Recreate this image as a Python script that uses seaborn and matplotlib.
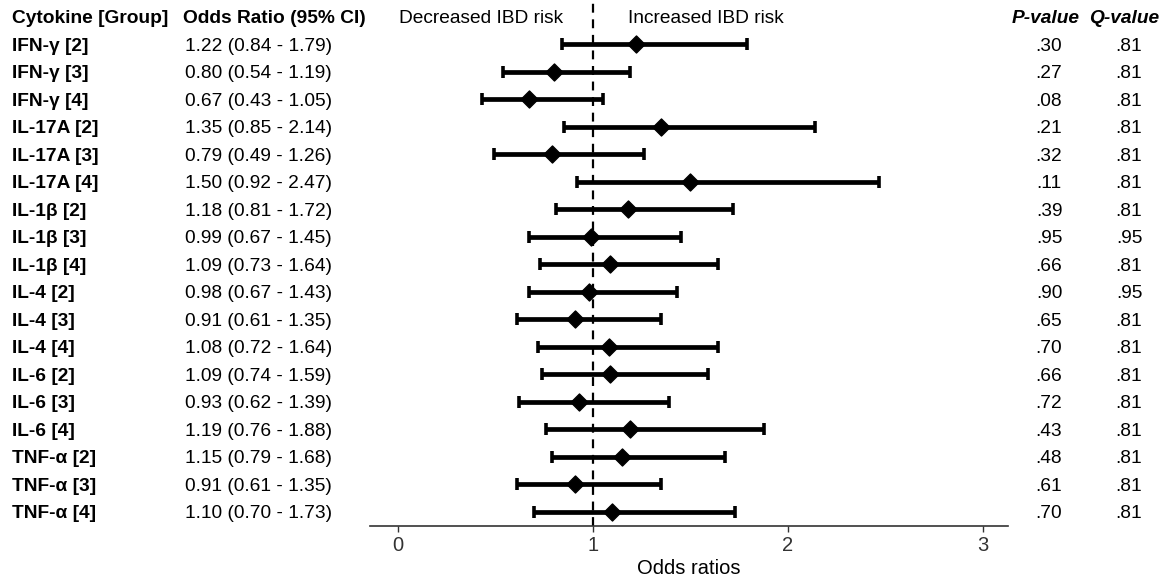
import matplotlib
matplotlib.use("Agg")
import matplotlib.pyplot as plt
import matplotlib.transforms as mtransforms
import numpy as np
import pandas as pd
import seaborn as sns

# data
labels = ["IFN-γ [2]", "IFN-γ [3]", "IFN-γ [4]",
          "IL-17A [2]", "IL-17A [3]", "IL-17A [4]",
          "IL-1β [2]", "IL-1β [3]", "IL-1β [4]",
          "IL-4 [2]", "IL-4 [3]", "IL-4 [4]",
          "IL-6 [2]", "IL-6 [3]", "IL-6 [4]",
          "TNF-α [2]", "TNF-α [3]", "TNF-α [4]"]
odds = [1.22, 0.80, 0.67, 1.35, 0.79, 1.50, 1.18, 0.99, 1.09,
        0.98, 0.91, 1.08, 1.09, 0.93, 1.19, 1.15, 0.91, 1.10]
ci_low = [0.84, 0.54, 0.43, 0.85, 0.49, 0.92, 0.81, 0.67, 0.73,
          0.67, 0.61, 0.72, 0.74, 0.62, 0.76, 0.79, 0.61, 0.70]
ci_high = [1.79, 1.19, 1.05, 2.14, 1.26, 2.47, 1.72, 1.45, 1.64,
           1.43, 1.35, 1.64, 1.59, 1.39, 1.88, 1.68, 1.35, 1.73]
p_values = [".30", ".27", ".08", ".21", ".32", ".11", ".39", ".95", ".66",
            ".90", ".65", ".70", ".66", ".72", ".43", ".48", ".61", ".70"]
q_values = [".81", ".81", ".81", ".81", ".81", ".81", ".81", ".95", ".81",
            ".95", ".81", ".81", ".81", ".81", ".81", ".81", ".81", ".81"]
x_ticks = [0, 1, 2, 3]

df = pd.DataFrame({"label": labels, "odds": odds, "lo": ci_low, "hi": ci_high,
                   "p": p_values, "q": q_values})
df["row"] = np.arange(len(df))

sns.set_theme(style="white")
plt.rcParams['font.family'] = ['Liberation Sans', 'DejaVu Sans']
plt.rcParams['text.color'] = 'black'
plt.rcParams['axes.labelcolor'] = 'black'

W, H = 1170, 582
fig = plt.figure(figsize=(11.7, 5.82), dpi=100)
ax = fig.add_axes([370 / W, 1 - 526 / H, (1008 - 370) / W, 526 / H])

# confidence intervals
ax.errorbar(df["odds"], df["row"],
            xerr=[df["odds"] - df["lo"], df["hi"] - df["odds"]],
            fmt="none", ecolor="black", elinewidth=3.4, capsize=4, capthick=2.6)
sns.scatterplot(data=df, x="odds", y="row", marker="D", s=75,
                color="black", edgecolor="black", linewidth=1, ax=ax, zorder=3)

ax.axvline(1, color="black", lw=1.6, ls=(0, (4, 3)), zorder=1)

ax.set_xlim(-0.144, 3.13)
ax.set_ylim(17.52, -1.6)
ax.set_xticks(x_ticks)
ax.set_xticklabels([str(t) for t in x_ticks], fontsize=14.5, color="#333333")
ax.set_yticks([])
ax.set_ylabel("")
ax.set_xlabel("Odds ratios", fontsize=14.5, labelpad=3)
for s in ["top", "left", "right"]:
    ax.spines[s].set_visible(False)
ax.spines["bottom"].set_color("#333333")
ax.spines["bottom"].set_linewidth(1.2)
ax.tick_params(axis="x", bottom=True, length=4, width=1, color="#333333", pad=3)

tr = mtransforms.blended_transform_factory(fig.transFigure, ax.transData)
fs = 13.8
va = "center_baseline"

# header row
ax.text(12 / W, -1, "Cytokine [Group]", transform=tr, fontsize=fs,
        fontweight="bold", va=va, ha="left")
ax.text(183 / W, -1, "Odds Ratio (95% CI)", transform=tr, fontsize=fs,
        fontweight="bold", va=va, ha="left")
ax.text(0.845, -1, "Decreased IBD risk", fontsize=fs, va=va, ha="right")
ax.text(1.18, -1, "Increased IBD risk", fontsize=fs, va=va, ha="left")
ax.text(1046 / W, -1, "P-value", transform=tr, fontsize=fs,
        fontweight="bold", style="italic", va=va, ha="center")
ax.text(1124 / W, -1, "Q-value", transform=tr, fontsize=fs,
        fontweight="bold", style="italic", va=va, ha="center")

for _, r in df.iterrows():
    y = r["row"]
    ax.text(12 / W, y, r["label"], transform=tr, fontsize=fs,
            fontweight="bold", va=va, ha="left")
    ax.text(185 / W, y, f"{r['odds']:.2f} ({r['lo']:.2f} - {r['hi']:.2f})",
            transform=tr, fontsize=fs, va=va, ha="left")
    ax.text(1049 / W, y, r["p"], transform=tr, fontsize=fs,
            va=va, ha="center")
    ax.text(1129 / W, y, r["q"], transform=tr, fontsize=fs,
            va=va, ha="center")

fig.savefig("out.png", dpi=100)
